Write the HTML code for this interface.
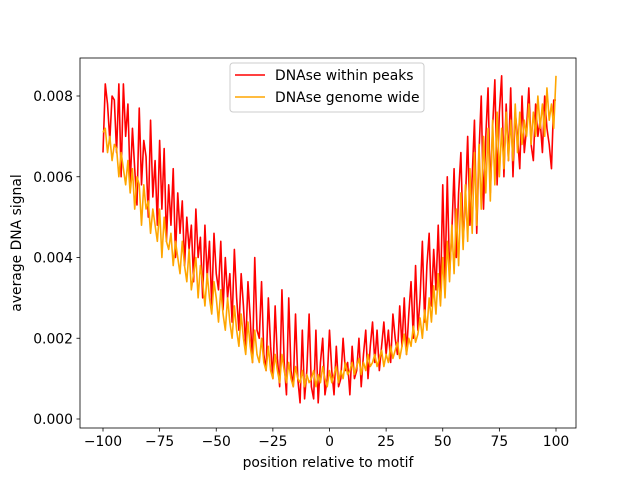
<!DOCTYPE html>
<html><head><meta charset="utf-8"><style>
body{margin:0;background:#fff;}
text{font-family:"DejaVu Sans","Liberation Sans",sans-serif;font-size:13.9px;fill:#000;}
</style></head><body>
<svg id="chart" width="640" height="480" xmlns="http://www.w3.org/2000/svg">
<rect width="640" height="480" fill="#fff"/>
<g id="marks"></g>
<rect x="80" y="58" width="496" height="370" fill="none" stroke="#000" stroke-width="0.8"/>
<g id="axes"></g>
<text x="328" y="467" text-anchor="middle">position relative to motif</text>
<text transform="translate(21,243) rotate(-90)" text-anchor="middle">average DNA signal</text>
<g>
<rect x="230" y="63" width="194" height="49" rx="3" fill="#fff" stroke="#ccc"/>
<line x1="235" y1="75" x2="265" y2="75" stroke="red" stroke-width="1.6"/>
<text x="275" y="80">DNAse within peaks</text>
<line x1="235" y1="97" x2="265" y2="97" stroke="orange" stroke-width="1.6"/>
<text x="275" y="102">DNAse genome wide</text>
</g>
</svg>
<script>
const xStart = -100;
const redSeries = [66,83,78,69,80,79,66,83,60,83,
70,78,58,72,62,53,77,58,69,65,
50,74,55,64,48,69,52,67,44,58,
48,62,40,56,46,54,38,50,42,48,
34,52,40,45,30,48,35,44,28,46,
36,32,44,27,40,30,36,24,42,30,
22,36,28,18,34,25,14,40,22,20,
34,16,12,30,18,10,28,15,8,32,
14,6,30,12,8,26,10,4,22,5,
12,26,8,5,22,4,14,20,6,10,
22,12,6,18,8,10,20,12,14,6,
18,10,12,20,8,16,22,10,18,24,
14,22,12,18,24,16,22,14,26,20,
16,28,18,30,16,26,34,20,38,22,
30,44,24,38,46,28,42,32,48,30,
58,34,60,36,46,62,40,56,66,44,
54,70,48,60,74,46,66,80,52,70,
82,56,72,84,58,76,85,60,78,64,
82,60,76,70,62,80,66,72,82,68,
64,78,70,74,66,80,72,68,62,79,79];
const orangeSeries = [71,72,66,70,64,68,67,60,66,62,
58,64,56,62,52,60,58,48,58,52,
54,46,52,48,44,52,40,50,44,42,
46,38,44,40,36,44,38,34,42,32,
36,40,30,38,34,28,36,30,26,34,
30,24,32,26,22,30,24,20,28,22,
18,26,20,16,24,18,14,22,16,14,
20,14,12,18,12,10,16,12,9,16,
12,9,14,10,8,13,10,9,12,8,
11,9,10,12,8,11,9,13,10,8,
12,9,11,13,9,12,10,14,11,12,
14,11,13,15,11,14,12,16,13,14,
16,13,15,17,13,16,14,18,15,17,
19,15,18,21,16,20,18,23,19,21,
25,20,27,22,30,24,33,26,36,28,
40,30,44,34,48,36,52,38,56,42,
58,44,62,46,66,48,68,52,70,56,
72,54,74,58,76,60,72,62,76,64,
74,64,78,66,76,68,74,70,78,68,
76,70,80,72,78,70,82,74,78,72,85];
const valueScale = 1e-4;
const xTicks = [-100,-75,-50,-25,0,25,50,75,100];
const yTicks = [0,0.002,0.004,0.006,0.008];
const yTickLabels = ["0.000","0.002","0.004","0.006","0.008"];

function xs(x){return 103 + (x + 100) * 2.265;}
function ys(v){return 419 - v / 0.002 * 80.75;}
const NS = "http://www.w3.org/2000/svg";
const marks = document.getElementById('marks');
const axes = document.getElementById('axes');
function drawLine(arr, color, name){
  const pts = arr.map((v,i)=>xs(xStart+i).toFixed(2)+','+ys(v*valueScale).toFixed(2)).join(' ');
  const pl = document.createElementNS(NS,'polyline');
  pl.setAttribute('points', pts);
  pl.setAttribute('fill','none');
  pl.setAttribute('stroke',color);
  pl.setAttribute('stroke-width','1.6');
  pl.setAttribute('stroke-linejoin','round');
  
  
  marks.appendChild(pl);
}
drawLine(redSeries,'red','line-within-peaks');
drawLine(orangeSeries,'orange','line-genome-wide');
xTicks.forEach(t=>{
  const l = document.createElementNS(NS,'line');
  l.setAttribute('x1',xs(t));l.setAttribute('x2',xs(t));
  l.setAttribute('y1',428);l.setAttribute('y2',431.5);
  l.setAttribute('stroke','#000');l.setAttribute('stroke-width','0.8');
  
  
  axes.appendChild(l);
  const tx = document.createElementNS(NS,'text');
  tx.setAttribute('x',xs(t));tx.setAttribute('y',446);
  tx.setAttribute('text-anchor','middle');
  tx.textContent = t < 0 ? '\u2212'+Math.abs(t) : String(t);
  
  
  axes.appendChild(tx);
});
yTicks.forEach((t,i)=>{
  const l = document.createElementNS(NS,'line');
  l.setAttribute('x1',76.5);l.setAttribute('x2',80);
  l.setAttribute('y1',ys(t));l.setAttribute('y2',ys(t));
  l.setAttribute('stroke','#000');l.setAttribute('stroke-width','0.8');
  
  
  axes.appendChild(l);
  const tx = document.createElementNS(NS,'text');
  tx.setAttribute('x',73);tx.setAttribute('y',ys(t)+5);
  tx.setAttribute('text-anchor','end');
  tx.textContent = yTickLabels[i];
  
  
  axes.appendChild(tx);
});
</script>
</body></html>
